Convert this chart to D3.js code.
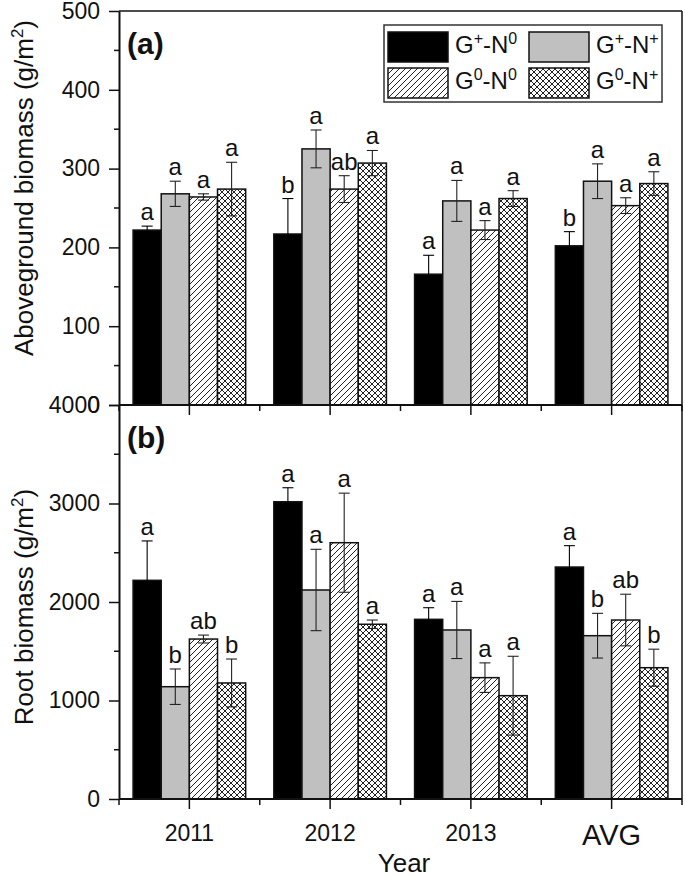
<!DOCTYPE html>
<html><head><meta charset="utf-8">
<script src="https://cdn.jsdelivr.net/npm/d3@7"></script>
<style>body{margin:0;background:#fff}svg{display:block}text{font-family:"Liberation Sans",Arial,sans-serif;fill:#111}</style>
</head><body>
<script>
const categories = ["2011", "2012", "2013", "AVG"];
const seriesKeys = ["GpN0", "GpNp", "G0N0", "G0Np"];
const seriesLabels = [["G","+","-N","0"],["G","+","-N","+"],["G","0","-N","0"],["G","0","-N","+"]];

const aboveMean = {
  GpN0: [222, 217, 166, 202],
  GpNp: [268, 325, 259, 284],
  G0N0: [264, 274, 222, 253],
  G0Np: [274, 307, 262, 281]
};
const aboveErr = {
  GpN0: [5, 45, 24, 18],
  GpNp: [16, 24, 26, 22],
  G0N0: [4, 17, 12, 10],
  G0Np: [34, 16, 10, 15]
};
const aboveLetters = {
  GpN0: ["a", "b", "a", "b"],
  GpNp: ["a", "a", "a", "a"],
  G0N0: ["a", "ab", "a", "a"],
  G0Np: ["a", "a", "a", "a"]
};
const rootMean = {
  GpN0: [2220, 3018, 1824, 2355],
  GpNp: [1140, 2122, 1716, 1658],
  G0N0: [1624, 2602, 1232, 1817],
  G0Np: [1178, 1774, 1049, 1333]
};
const rootErr = {
  GpN0: [400, 142, 118, 217],
  GpNp: [180, 413, 290, 227],
  G0N0: [40, 503, 150, 262],
  G0Np: [243, 43, 400, 188]
};
const rootLetters = {
  GpN0: ["a", "a", "a", "a"],
  GpNp: ["b", "a", "a", "b"],
  G0N0: ["ab", "a", "a", "ab"],
  G0Np: ["b", "a", "a", "b"]
};
const aboveTicks = [0, 100, 200, 300, 400, 500];
const rootTicks = [0, 1000, 2000, 3000, 4000];

const W = 685, H = 878;
const svg = d3.select("body").append("svg").attr("width", W).attr("height", H);
const defs = svg.append("defs");
const hp = defs.append("pattern").attr("id", "hatch").attr("patternUnits", "userSpaceOnUse").attr("width", 6).attr("height", 6);
hp.append("rect").attr("width", 6).attr("height", 6).attr("fill", "#fff");
hp.append("path").attr("d", "M0,6 L6,0 M-1,1 L1,-1 M5,7 L7,5").attr("stroke", "#222").attr("stroke-width", 1);
const cp = defs.append("pattern").attr("id", "cross").attr("patternUnits", "userSpaceOnUse").attr("width", 6).attr("height", 6);
cp.append("rect").attr("width", 6).attr("height", 6).attr("fill", "#fff");
cp.append("path").attr("d", "M0,6 L6,0 M-1,1 L1,-1 M5,7 L7,5 M0,0 L6,6 M-1,5 L1,7 M5,-1 L7,1").attr("stroke", "#222").attr("stroke-width", 1);
const fills = { GpN0: "#000", GpNp: "#c0c0c0", G0N0: "url(#hatch)", G0Np: "url(#cross)" };

const xL = 119, xR = 682;
const x0 = d3.scaleBand().domain(categories).range([xL, xR]).paddingInner(0.2).paddingOuter(0.1);
const x1 = d3.scaleBand().domain(seriesKeys).range([0, x0.bandwidth()]);

function panel(opt) {
  const y = d3.scaleLinear().domain(opt.domain).range([opt.bottom, opt.top]);
  const g = svg.append("g");
  seriesKeys.forEach(k => {
    categories.forEach((c, i) => {
      const v = opt.mean[k][i], e = opt.err[k][i];
      const bx = x0(c) + x1(k), bw = x1.bandwidth();
      g.append("rect").attr("x", bx).attr("y", y(v)).attr("width", bw).attr("height", y(0) - y(v))
        .attr("fill", fills[k]).attr("stroke", "#111").attr("stroke-width", 1.5);
      const cx = bx + bw / 2;
      const ec = k === "GpN0" ? "#000" : "#222";
      g.append("line").attr("x1", cx).attr("x2", cx).attr("y1", y(v + e)).attr("y2", y(v - e)).attr("stroke", ec).attr("stroke-width", 1.1);
      [v + e, v - e].forEach(t => g.append("line").attr("x1", cx - 5.5).attr("x2", cx + 5.5).attr("y1", y(t)).attr("y2", y(t)).attr("stroke", ec).attr("stroke-width", 1.1));
      g.append("text").attr("x", cx).attr("y", y(v + e) - 6).attr("text-anchor", "middle").attr("font-size", 24).text(opt.letters[k][i]);
    });
  });
  g.append("line").attr("x1", xL).attr("x2", xR).attr("y1", opt.top).attr("y2", opt.top).attr("stroke", "#111").attr("stroke-width", 1.5);
  g.append("line").attr("x1", xR).attr("x2", xR).attr("y1", opt.top).attr("y2", opt.bottom).attr("stroke", "#111").attr("stroke-width", 1.5);
  const ya = d3.axisLeft(y).tickValues(opt.ticks).tickSize(10).tickSizeOuter(0).tickFormat(d3.format("d"));
  const yg = g.append("g").attr("transform", `translate(${xL},0)`).call(ya);
  yg.select(".domain").attr("stroke", "#111").attr("stroke-width", 2);
  yg.selectAll(".tick line").attr("stroke", "#111").attr("stroke-width", 1.5);
  yg.selectAll(".tick text").attr("font-size", 23).attr("x", -19).attr("fill", "#111").attr("font-family", '"Liberation Sans",Arial,sans-serif');
  const step = opt.ticks[1] - opt.ticks[0];
  opt.ticks.slice(0, -1).forEach(t => g.append("line").attr("x1", xL - 5).attr("x2", xL).attr("y1", y(t + step / 2)).attr("y2", y(t + step / 2)).attr("stroke", "#111").attr("stroke-width", 1.5));
  g.append("line").attr("x1", xL).attr("x2", xR).attr("y1", opt.bottom).attr("y2", opt.bottom).attr("stroke", "#111").attr("stroke-width", 2);
  categories.forEach(c => {
    const cx = x0(c) + x0.bandwidth() / 2;
    g.append("line").attr("x1", cx).attr("x2", cx).attr("y1", opt.bottom - 2).attr("y2", opt.bottom + 10).attr("stroke", "#111").attr("stroke-width", 1.5);
  });
  for (let i = 0; i <= categories.length; i++) {
    const mx = xL + i * x0.step();
    g.append("line").attr("x1", mx).attr("x2", mx).attr("y1", opt.bottom).attr("y2", opt.bottom + 6).attr("stroke", "#111").attr("stroke-width", 1.5);
  }
  g.append("text").attr("x", 127).attr("y", opt.top + 43).attr("font-size", 30).attr("font-weight", "bold").text(opt.label);
  const t = g.append("text").attr("transform", `translate(33,${opt.titleY}) rotate(-90)`).attr("text-anchor", "middle").attr("font-size", 26);
  t.append("tspan").text(opt.title + " (g/m");
  t.append("tspan").attr("font-size", 17).attr("dy", -10).text("2");
  t.append("tspan").attr("dy", 10).text(")");
  return y;
}

panel({ domain: [0, 500], top: 11, bottom: 405, mean: aboveMean, err: aboveErr, letters: aboveLetters, ticks: aboveTicks, label: "(a)", title: "Aboveground biomass", titleY: 188 });
panel({ domain: [0, 4000], top: 405, bottom: 799, mean: rootMean, err: rootErr, letters: rootLetters, ticks: rootTicks, label: "(b)", title: "Root biomass", titleY: 607 });

categories.forEach(c => {
  const cx = x0(c) + x0.bandwidth() / 2;
  svg.append("text").attr("x", cx).attr("y", c === "AVG" ? 845 : 841).attr("text-anchor", "middle").attr("font-size", c === "AVG" ? 29 : 23).text(c);
});
svg.append("text").attr("x", 404).attr("y", 872).attr("text-anchor", "middle").attr("font-size", 26).text("Year");

const lg = svg.append("g");
lg.append("rect").attr("x", 384).attr("y", 25).attr("width", 278).attr("height", 77).attr("fill", "#fff").attr("stroke", "#333").attr("stroke-width", 1.5);
const legPos = [[388, 32], [529, 32], [388, 68], [529, 68]];
seriesKeys.forEach((k, i) => {
  const [lx, ly] = legPos[i];
  lg.append("rect").attr("x", lx).attr("y", ly).attr("width", 60).attr("height", 30).attr("fill", fills[k]).attr("stroke", "#111").attr("stroke-width", 1.5);
  const tx = lg.append("text").attr("x", lx + 67).attr("y", ly + 21).attr("font-size", 24);
  const p = seriesLabels[i];
  tx.append("tspan").text(p[0]);
  tx.append("tspan").attr("font-size", 16).attr("dy", -9).text(p[1]);
  tx.append("tspan").attr("dy", 9).text(p[2]);
  tx.append("tspan").attr("font-size", 16).attr("dy", -9).text(p[3]);
});
</script>
</body></html>
